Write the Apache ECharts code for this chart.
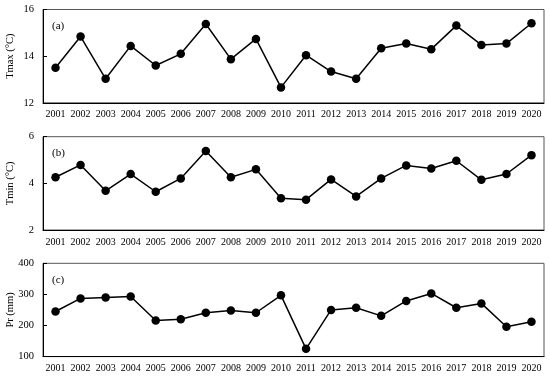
<!DOCTYPE html>
<html><head><meta charset="utf-8">
<script src="https://cdn.jsdelivr.net/npm/echarts@6/dist/echarts.min.js"></script>
<style>html,body{margin:0;padding:0;background:#fff}#c{width:550px;height:378px}</style>
</head><body><div id="c"></div>
<script>
const years = ['2001','2002','2003','2004','2005','2006','2007','2008','2009','2010','2011','2012','2013','2014','2015','2016','2017','2018','2019','2020'];
const tmax = [13.5,14.84,13.03,14.44,13.6,14.1,15.38,13.87,14.74,12.66,14.04,13.34,13.03,14.34,14.54,14.3,15.31,14.48,14.54,15.41];
const tmin = [4.26,4.79,3.68,4.4,3.64,4.21,5.39,4.26,4.6,3.36,3.3,4.17,3.44,4.21,4.77,4.64,4.97,4.15,4.4,5.21];
const pr = [245,287,290,293,216,220,241,248,241,297,125,250,257,231,279,303,257,271,196,212];
const panelNames = ['Tmax (\u00B0C)','Tmin (\u00B0C)','Pr (mm)'];
const panelTags = ['(a)','(b)','(c)'];
const yMin = [12,2,100], yMax = [16,6,400], yInt = [2,2,100];
const seriesData = [tmax,tmin,pr];

const font = 'Liberation Serif';
const tops = [9.5,136.7,263.3];
const grids = [], xAxes = [], yAxes = [], series = [], titles = [];
for (let i=0;i<3;i++){
  grids.push({left:43,right:6,top:tops[i],height:93.3,show:true,borderColor:'#555',borderWidth:1,containLabel:false,outerBoundsMode:'none'});
  xAxes.push({type:'category',gridIndex:i,data:years,boundaryGap:true,
    axisLine:{lineStyle:{color:'#000',width:1}},
    axisTick:{inside:true,alignWithLabel:true,length:4,lineStyle:{color:'#000'}},
    axisLabel:{fontFamily:font,fontSize:10,color:'#000',margin:7,interval:0},
    splitLine:{show:false}});
  yAxes.push({type:'value',gridIndex:i,min:yMin[i],max:yMax[i],interval:yInt[i],
    name:panelNames[i],nameLocation:'middle',nameGap:27,nameMoveOverlap:false,
    nameTextStyle:{fontFamily:font,fontSize:10.5,color:'#000'},
    axisLine:{show:true,lineStyle:{color:'#000',width:1}},
    axisTick:{show:true,inside:true,length:4,lineStyle:{color:'#000'}},
    axisLabel:{fontFamily:font,fontSize:10.5,color:'#000',margin:9},
    splitLine:{show:false}});
  series.push({type:'line',xAxisIndex:i,yAxisIndex:i,data:seriesData[i],
    symbol:'circle',symbolSize:8.5,showSymbol:true,
    lineStyle:{color:'#000',width:1.5},itemStyle:{color:'#000'}});
  titles.push({text:panelTags[i],left:47,top:tops[i]+6,textStyle:{fontFamily:font,fontSize:11,fontWeight:'normal',color:'#000'}});
}
const chart = echarts.init(document.getElementById('c'),null,{renderer:'canvas'});
chart.setOption({animation:false,backgroundColor:'#fff',title:titles,grid:grids,xAxis:xAxes,yAxis:yAxes,series:series});
</script></body></html>
